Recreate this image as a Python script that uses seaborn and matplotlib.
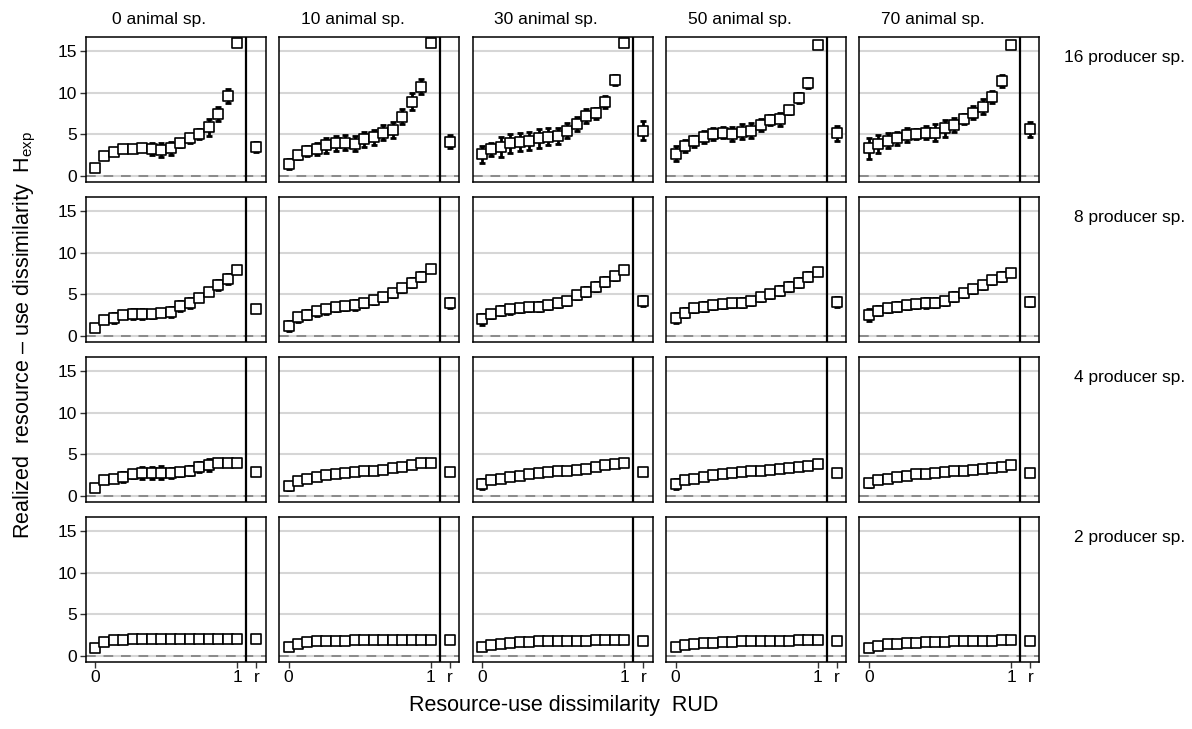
import numpy as np
import pandas as pd
import matplotlib
matplotlib.use("Agg")
import matplotlib.pyplot as plt
import seaborn as sns

# ---------------- data ----------------
animals = ["0 animal sp.", "10 animal sp.", "30 animal sp.", "50 animal sp.", "70 animal sp."]
producers = ["16 producer sp.", "8 producer sp.", "4 producer sp.", "2 producer sp."]
rud = np.linspace(0, 1, 16)
x_tick_labels = ["0", "1", "r"]
y_ticks = [0, 5, 10, 15]

# row: 16 producer species (means per animal column)
H_16 = [
    [1.0, 2.45, 2.85, 3.2, 3.28, 3.36, 3.2, 3.12, 3.32, 3.92, 4.5, 5.0, 5.85, 7.45, 9.6, 16.0],
    [1.4, 2.55, 2.95, 3.2, 3.68, 3.92, 4.0, 3.88, 4.4, 4.64, 5.2, 5.5, 7.1, 8.9, 10.7, 16.0],
    [2.6, 3.2, 3.5, 3.9, 4.1, 4.2, 4.5, 4.7, 4.8, 5.45, 6.25, 7.2, 7.5, 8.9, 11.5, 16.0],
    [2.65, 3.6, 4.15, 4.65, 5.05, 5.2, 5.05, 5.3, 5.45, 6.1, 6.7, 6.8, 7.9, 9.3, 11.1, 15.7],
    [3.3, 3.85, 4.2, 4.5, 4.9, 5.05, 5.2, 5.2, 5.7, 6.1, 6.8, 7.6, 8.3, 9.5, 11.4, 15.7],
]
E_16 = [
    [0.1, 0.3, 0.3, 0.3, 0.4, 0.4, 0.7, 0.8, 0.8, 0.5, 0.5, 0.6, 1.0, 0.8, 0.8, 0.1],
    [0.6, 0.5, 0.6, 0.7, 0.9, 0.9, 0.9, 0.9, 0.9, 0.9, 0.9, 1.0, 0.9, 1.0, 0.9, 0.2],
    [1.0, 0.8, 1.2, 1.1, 1.1, 1.1, 1.1, 1.0, 1.0, 0.9, 0.8, 0.8, 0.7, 0.7, 0.6, 0.2],
    [0.9, 0.7, 0.7, 0.7, 0.7, 0.7, 0.8, 0.9, 0.9, 0.7, 0.6, 0.8, 0.5, 0.6, 0.6, 0.3],
    [1.3, 1.1, 0.9, 0.8, 0.8, 0.6, 0.8, 1.0, 1.0, 0.8, 0.6, 0.8, 0.9, 0.7, 0.7, 0.3],
]
R_16 = [3.45, 4.1, 5.45, 5.1, 5.6]
RE_16 = [0.6, 0.8, 1.1, 0.9, 0.9]

# row: 8 producer species
H_8 = [
    [1.0, 1.92, 2.12, 2.52, 2.64, 2.64, 2.64, 2.8, 2.92, 3.6, 3.92, 4.6, 5.32, 6.12, 6.84, 7.92],
    [1.2, 2.24, 2.56, 2.96, 3.2, 3.44, 3.6, 3.72, 3.92, 4.32, 4.64, 5.12, 5.72, 6.4, 7.12, 8.0],
    [2.0, 2.64, 3.04, 3.2, 3.36, 3.44, 3.52, 3.72, 3.92, 4.2, 4.92, 5.32, 5.92, 6.52, 7.2, 7.92],
    [2.12, 2.8, 3.32, 3.52, 3.68, 3.8, 3.92, 4.0, 4.2, 4.64, 5.04, 5.44, 5.92, 6.4, 7.12, 7.72],
    [2.52, 3.04, 3.32, 3.52, 3.68, 3.84, 3.92, 4.0, 4.16, 4.72, 5.12, 5.6, 6.12, 6.72, 7.12, 7.52],
]
E_8 = [
    [0.1, 0.3, 0.6, 0.4, 0.6, 0.6, 0.5, 0.4, 0.6, 0.6, 0.6, 0.4, 0.4, 0.6, 0.6, 0.1],
    [0.6, 0.5, 0.5, 0.5, 0.5, 0.5, 0.5, 0.6, 0.5, 0.5, 0.5, 0.5, 0.5, 0.5, 0.5, 0.1],
    [0.7, 0.5, 0.5, 0.5, 0.5, 0.5, 0.5, 0.5, 0.5, 0.5, 0.5, 0.5, 0.5, 0.5, 0.5, 0.2],
    [0.6, 0.5, 0.5, 0.5, 0.5, 0.5, 0.5, 0.5, 0.5, 0.5, 0.5, 0.5, 0.5, 0.5, 0.5, 0.2],
    [0.7, 0.5, 0.5, 0.5, 0.5, 0.5, 0.6, 0.5, 0.5, 0.5, 0.5, 0.5, 0.5, 0.5, 0.5, 0.2],
]
R_8 = [3.25, 3.92, 4.2, 4.12, 4.12]
RE_8 = [0.3, 0.6, 0.6, 0.6, 0.5]

# row: 4 producer species
H_4 = [
    [1.0, 1.92, 2.0, 2.32, 2.64, 2.72, 2.8, 2.8, 2.8, 2.9, 3.05, 3.45, 3.72, 3.92, 4.0, 4.0],
    [1.2, 1.8, 2.1, 2.3, 2.5, 2.65, 2.8, 2.9, 3.0, 3.05, 3.15, 3.3, 3.5, 3.75, 3.9, 3.95],
    [1.4, 1.9, 2.1, 2.3, 2.45, 2.6, 2.75, 2.85, 2.95, 3.05, 3.15, 3.25, 3.5, 3.7, 3.85, 3.95],
    [1.4, 1.95, 2.1, 2.3, 2.5, 2.65, 2.75, 2.85, 2.95, 3.0, 3.1, 3.2, 3.3, 3.45, 3.6, 3.85],
    [1.6, 1.9, 2.1, 2.3, 2.45, 2.6, 2.7, 2.8, 2.85, 2.95, 3.0, 3.1, 3.2, 3.35, 3.5, 3.7],
]
E_4 = [
    [0.1, 0.3, 0.3, 0.6, 0.5, 0.7, 0.7, 0.8, 0.6, 0.5, 0.5, 0.6, 0.7, 0.3, 0.2, 0.1],
    [0.5, 0.3, 0.3, 0.3, 0.3, 0.3, 0.3, 0.3, 0.3, 0.3, 0.3, 0.3, 0.3, 0.3, 0.3, 0.1],
    [0.6, 0.3, 0.3, 0.3, 0.3, 0.3, 0.3, 0.3, 0.3, 0.3, 0.3, 0.3, 0.3, 0.3, 0.3, 0.1],
    [0.6, 0.3, 0.3, 0.3, 0.3, 0.3, 0.3, 0.3, 0.3, 0.3, 0.3, 0.3, 0.3, 0.3, 0.3, 0.2],
    [0.5, 0.3, 0.3, 0.3, 0.3, 0.3, 0.3, 0.3, 0.3, 0.3, 0.3, 0.3, 0.3, 0.3, 0.3, 0.2],
]
R_4 = [2.9, 2.9, 2.85, 2.8, 2.8]
RE_4 = [0.3, 0.2, 0.2, 0.2, 0.2]

# row: 2 producer species
H_2 = [
    [1.0, 1.7, 1.9, 1.95, 2.0, 2.0, 2.0, 2.0, 2.0, 2.0, 2.0, 2.0, 2.0, 2.0, 2.0, 2.0],
    [1.1, 1.45, 1.65, 1.75, 1.8, 1.85, 1.85, 1.9, 1.9, 1.9, 1.95, 1.95, 1.95, 1.95, 1.95, 1.95],
    [1.1, 1.35, 1.5, 1.6, 1.65, 1.7, 1.75, 1.75, 1.8, 1.8, 1.85, 1.85, 1.9, 1.9, 1.9, 1.95],
    [1.05, 1.3, 1.45, 1.55, 1.6, 1.65, 1.7, 1.75, 1.75, 1.8, 1.8, 1.85, 1.85, 1.9, 1.9, 1.9],
    [1.0, 1.25, 1.4, 1.5, 1.55, 1.6, 1.65, 1.7, 1.7, 1.75, 1.8, 1.8, 1.85, 1.85, 1.9, 1.9],
]
E_2 = [
    [0.05, 0.1, 0.1, 0.05, 0.05, 0.05, 0.05, 0.05, 0.05, 0.05, 0.05, 0.05, 0.05, 0.05, 0.05, 0.05],
    [0.1, 0.1, 0.1, 0.1, 0.1, 0.1, 0.1, 0.1, 0.1, 0.1, 0.1, 0.1, 0.1, 0.1, 0.1, 0.1],
    [0.1, 0.15, 0.15, 0.15, 0.15, 0.15, 0.15, 0.15, 0.15, 0.15, 0.15, 0.15, 0.15, 0.15, 0.15, 0.1],
    [0.1, 0.2, 0.2, 0.2, 0.2, 0.2, 0.2, 0.2, 0.2, 0.2, 0.2, 0.2, 0.2, 0.2, 0.2, 0.1],
    [0.1, 0.2, 0.25, 0.25, 0.25, 0.25, 0.25, 0.25, 0.25, 0.25, 0.25, 0.25, 0.25, 0.25, 0.25, 0.15],
]
R_2 = [2.0, 1.9, 1.85, 1.8, 1.75]
RE_2 = [0.1, 0.1, 0.1, 0.1, 0.1]

H_rows = [H_16, H_8, H_4, H_2]
E_rows = [E_16, E_8, E_4, E_2]
R_rows = [R_16, R_8, R_4, R_2]
RE_rows = [RE_16, RE_8, RE_4, RE_2]

# ---------------- layout ----------------
sns.set_theme(style="white")
plt.rcParams["font.family"] = ["Liberation Sans", "DejaVu Sans"]
plt.rcParams["mathtext.fontset"] = "custom"
plt.rcParams["mathtext.rm"] = "Liberation Sans"
plt.rcParams["mathtext.it"] = "Liberation Sans"
plt.rcParams["text.color"] = "black"
plt.rcParams["xtick.color"] = "black"
plt.rcParams["ytick.color"] = "black"
plt.rcParams["axes.labelcolor"] = "black"

W, H = 1192, 729
fig = plt.figure(figsize=(W / 100, H / 100), dpi=100)

R_POS = 1.136
VLINE = 1.064
XLIM = (-0.067, 1.2)
YLIM = (-0.68, 16.7)

left0, pitch_x, pw = 85.5, 193.5, 180.0
top0, pitch_y, ph = 36.7, 160.0, 145.0

for i in range(4):
    for j in range(5):
        l = left0 + j * pitch_x
        t = top0 + i * pitch_y
        ax = fig.add_axes([l / W, 1 - (t + ph) / H, pw / W, ph / H])
        df = pd.DataFrame({"x": list(rud) + [R_POS],
                           "y": H_rows[i][j] + [R_rows[i][j]],
                           "e": E_rows[i][j] + [RE_rows[i][j]]})
        for g in y_ticks:
            ax.axhline(g, color="#d6d6d6", lw=1.5, zorder=0)
        ax.axhline(0, color="#8a8a8a", lw=1.4, ls=(0, (5, 4)), zorder=0.5)
        ax.axvline(VLINE, color="black", lw=1.6, zorder=1)
        ax.errorbar(df["x"], df["y"], yerr=df["e"], fmt="none", ecolor="black",
                    elinewidth=2.0, capsize=2.3, capthick=2.0, zorder=2)
        sns.scatterplot(data=df, x="x", y="y", ax=ax, marker="s", s=44,
                        facecolor="white", edgecolor="black", linewidth=1.2,
                        zorder=3, legend=False)
        ax.set_xlim(*XLIM)
        ax.set_ylim(*YLIM)
        ax.set_xlabel("")
        ax.set_ylabel("")
        for sp in ax.spines.values():
            sp.set_color("black")
            sp.set_linewidth(1.1)
        ax.set_yticks(y_ticks)
        ax.set_xticks([0, 1, R_POS])
        if j == 0:
            ax.tick_params(axis="y", length=4, width=1, color="#333333",
                           labelsize=12.5, pad=2, left=True)
        else:
            ax.tick_params(axis="y", left=False, labelleft=False)
        if i == 3:
            ax.set_xticklabels(x_tick_labels)
            ax.tick_params(axis="x", length=4, width=1, color="#333333",
                           labelsize=12.5, pad=2, bottom=True)
        else:
            ax.tick_params(axis="x", bottom=False, labelbottom=False)
        if i == 0:
            ax.text(0.41, 1.07, animals[j], transform=ax.transAxes,
                    ha="center", va="bottom", fontsize=12.5)
        if j == 4:
            fig.text(1185 / W, 1 - (t + 21) / H, producers[i],
                     ha="right", va="center", fontsize=12.5)

fig.text(564 / W, 1 - 705 / H, "Resource-use dissimilarity  RUD",
         ha="center", va="center", fontsize=15.5)
fig.text(25 / W, 1 - 335 / H,
         "Realized  resource \u2013 use dissimilarity  $\\mathregular{H_{exp}}$",
         ha="center", va="center", rotation=90, fontsize=15.5)

fig.savefig("out.png", dpi=100)
